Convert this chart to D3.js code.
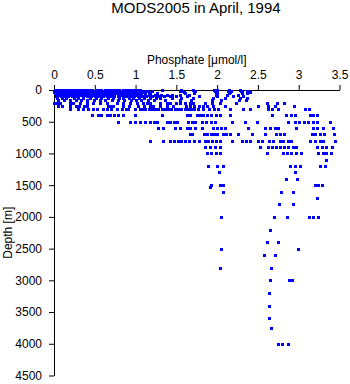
<!DOCTYPE html>
<html>
<head>
<meta charset="utf-8">
<script src="https://cdn.jsdelivr.net/npm/d3@7"></script>
<style>
  html, body { margin: 0; padding: 0; background: #fff; }
  svg { display: block; }
  text { font-family: "Liberation Sans", Arial, Helvetica, sans-serif; fill: #000; }
</style>
</head>
<body>
<svg id="chart" width="350" height="384"></svg>
<script>
const titleText = "MODS2005 in April, 1994";
const xLabel = "Phosphate [\u03bcmol/l]";
const yLabel = "Depth [m]";
const xTicks = [0, 0.5, 1, 1.5, 2, 2.5, 3, 3.5];
const yTicks = [0, 500, 1000, 1500, 2000, 2500, 3000, 3500, 4000, 4500];

const depths = [0, 10, 20, 30, 50, 75, 100, 125, 150, 200, 250, 300, 400, 500, 600, 700, 800, 900, 1000, 1100, 1200, 1300, 1400, 1500, 1530, 1600, 1700, 1800, 2000, 2200, 2400, 2500, 2600, 2800, 3000, 3200, 3400, 3600, 3750, 4000];

const phosphateAtDepth = [
  [0.01,0.04,0.07,0.1,0.13,0.17,0.2,0.23,0.27,0.3,0.33,0.37,0.41,0.44,0.47,0.51,0.55,0.58,0.62,0.66,0.69,0.72,0.76,0.8,0.84,0.87,0.91,0.95,0.98,1.02,1.06,1.32,1.56,1.7,1.96,2.0,2.14,2.28],
  [0.02,0.06,0.09,0.12,0.16,0.19,0.22,0.26,0.29,0.34,0.38,0.4,0.45,0.48,0.52,0.57,0.6,0.63,0.68,0.71,0.74,0.78,0.82,0.86,0.9,0.93,0.97,1.01,1.04,1.09,1.15,1.57,1.97,2.17,2.36],
  [0.03,0.05,0.1,0.14,0.15,0.2,0.24,0.28,0.31,0.35,0.39,0.43,0.46,0.5,0.53,0.56,0.61,0.65,0.7,0.73,0.77,0.81,0.85,0.88,0.92,0.96,1.0,1.03,1.08,1.14,1.2,1.55,1.73,1.99,2.13,2.29,2.38],
  [0.0,0.04,0.08,0.11,0.15,0.18,0.21,0.25,0.28,0.32,0.36,0.4,0.43,0.47,0.5,0.54,0.59,0.63,0.67,0.7,0.75,0.79,0.83,0.87,0.9,0.94,0.99,1.05,1.1,1.16,1.59,1.98,2.16,2.3,2.4],
  [0.01,0.05,0.09,0.12,0.16,0.2,0.23,0.27,0.3,0.34,0.37,0.42,0.46,0.49,0.52,0.57,0.61,0.64,0.68,0.72,0.76,0.8,0.84,0.88,0.92,0.96,1.0,1.04,1.07,1.12,1.18,1.26,1.6,1.72,2.0,2.15,2.3,2.36],
  [0.02,0.06,0.1,0.13,0.17,0.21,0.24,0.28,0.32,0.36,0.39,0.43,0.47,0.51,0.55,0.59,0.62,0.66,0.7,0.74,0.78,0.82,0.86,0.9,0.94,0.97,1.02,1.06,1.11,1.17,1.24,1.31,1.38,1.45,1.54,1.65,1.98,2.12,2.25],
  [0.03,0.08,0.12,0.17,0.22,0.26,0.3,0.35,0.41,0.45,0.5,0.54,0.6,0.65,0.69,0.73,0.79,0.84,0.88,0.93,0.98,1.03,1.08,1.13,1.2,1.28,1.35,1.42,1.5,1.63,1.78,2.0,2.2,2.32],
  [0.04,0.1,0.15,0.24,0.3,0.36,0.44,0.52,0.58,0.66,0.72,0.8,0.85,0.92,0.97,1.04,1.1,1.18,1.25,1.3,1.45,1.56,1.7,1.95,2.1,2.28,2.37],
  [0.05,0.12,0.2,0.27,0.33,0.41,0.49,0.57,0.63,0.71,0.78,0.86,0.94,1.0,1.07,1.15,1.22,1.36,1.54,1.68,1.94,2.05,2.27,2.35],
  [0.0,0.04,0.07,0.2,0.23,0.32,0.4,0.48,0.56,0.65,0.77,0.85,0.93,1.02,1.09,1.14,1.18,1.3,1.38,1.42,1.49,1.54,1.6,1.67,1.71,1.85,1.94,2.03,2.23,2.61,2.73,2.82],
  [0.05,0.1,0.2,0.27,0.31,0.37,0.41,0.66,0.7,0.72,0.85,0.92,1.03,1.1,1.18,1.21,1.3,1.38,1.46,1.62,1.67,1.72,1.78,1.83,1.87,1.95,2.1,2.5,2.62,2.71,2.94],
  [0.2,0.29,0.36,0.42,0.48,0.53,0.6,0.65,0.7,0.77,0.83,0.88,0.91,0.99,1.05,1.08,1.12,1.16,1.2,1.24,1.28,1.32,1.36,1.4,1.44,1.48,1.52,1.56,1.6,1.64,1.68,1.72,1.77,1.83,1.9,1.96,2.01,2.16,2.32,2.4,2.62,2.67,2.75,3.08,3.12],
  [0.46,0.54,0.58,0.65,0.69,0.73,0.79,0.85,0.99,1.32,1.63,1.67,1.75,1.79,1.83,1.87,1.92,1.98,2.03,2.16,2.67,2.85,2.9,2.96,3.14,3.18,3.22],
  [0.79,0.93,0.99,1.05,1.12,1.18,1.22,1.26,1.38,1.42,1.47,1.51,1.64,1.69,1.73,1.81,1.86,1.92,1.97,2.18,2.34,2.49,2.87,2.95,3.0,3.06,3.11,3.17,3.23,3.38],
  [1.27,1.34,1.48,1.54,1.63,1.67,1.73,1.81,1.95,2.0,2.05,2.1,2.38,2.59,2.65,2.71,2.75,2.97,3.17,3.23,3.3,3.42],
  [1.67,1.69,1.84,1.87,1.92,1.96,2.0,2.07,2.11,2.16,2.26,2.43,2.59,2.72,2.77,2.82,3.16,3.2,3.26,3.31,3.43],
  [1.18,1.34,1.42,1.47,1.52,1.56,1.61,1.66,1.72,1.78,1.85,1.89,1.94,1.99,2.03,2.18,2.3,2.35,2.4,2.5,2.55,2.63,2.69,2.77,2.81,2.87,2.9,3.14,3.2,3.26,3.3,3.44],
  [1.85,1.91,1.97,2.03,2.52,2.62,2.67,2.72,2.77,2.82,2.87,2.93,2.97,3.22,3.28,3.34,3.41],
  [1.87,1.93,1.98,2.04,2.61,2.81,2.86,2.91,2.97,3.03,3.24,3.3,3.34,3.4],
  [3.34],
  [1.89,2.0,2.07,2.89,2.95,3.01,3.26,3.32],
  [2.02,2.95],
  [2.84,2.98],
  [1.93,2.04,2.07,3.2,3.24,3.29],
  [1.91],
  [2.07,2.78,2.93],
  [3.23],
  [2.76,2.93],
  [2.05,2.7,2.86,3.12,3.17,3.24],
  [2.65],
  [2.61,2.75],
  [2.05,2.99],
  [2.58,2.71],
  [2.04,2.66],
  [2.65,2.88,2.92],
  [2.64],
  [2.63],
  [2.64],
  [2.66],
  [2.75,2.8,2.87]
];

const points = [];
depths.forEach((d, i) => phosphateAtDepth[i].forEach(p => points.push({ depth: d, phosphate: p })));

const svg = d3.select("#chart");
const x = d3.scaleLinear().domain([0, 3.5]).range([54, 339.5]);
const y = d3.scaleLinear().domain([0, 4500]).range([90, 375.5]);

svg.append("text")
  .attr("x", 196).attr("y", 13)
  .attr("text-anchor", "middle")
  .style("font-size", "15px")
  .text(titleText);

svg.append("g")
  .attr("transform", `translate(0,${y(0)})`)
  .call(d3.axisTop(x).tickValues(xTicks).tickFormat(d => String(d)).tickSize(5).tickSizeOuter(0).tickPadding(6))
  .call(g => g.selectAll("text").style("font-size", "12px").style("font-family", "Liberation Sans, Arial, sans-serif"));

svg.append("g")
  .attr("transform", `translate(${x(0)},0)`)
  .call(d3.axisLeft(y).tickValues(yTicks).tickFormat(d => String(d)).tickSize(5).tickSizeOuter(0).tickPadding(7))
  .call(g => g.selectAll("text").style("font-size", "12px").style("font-family", "Liberation Sans, Arial, sans-serif"));

svg.append("text")
  .attr("x", (x(0) + x(3.5)) / 2).attr("y", 64)
  .attr("text-anchor", "middle")
  .style("font-size", "12px")
  .text(xLabel);

svg.append("text")
  .attr("transform", `translate(12,${(y(0) + y(4500)) / 2}) rotate(-90)`)
  .attr("text-anchor", "middle")
  .style("font-size", "12px")
  .text(yLabel);

svg.append("g")
  .selectAll("rect")
  .data(points)
  .join("rect")
  .attr("x", d => Math.round(x(d.phosphate)) - 1)
  .attr("y", d => Math.round(y(d.depth)) - 1)
  .attr("width", 3)
  .attr("height", 3)
  .attr("fill", "#0000ff");
</script>
</body>
</html>
